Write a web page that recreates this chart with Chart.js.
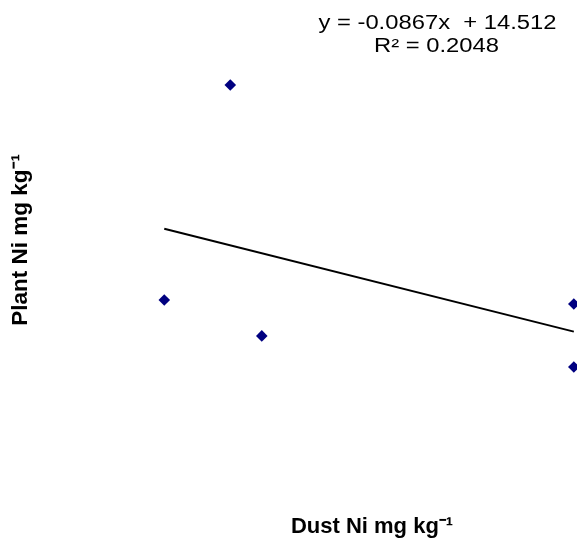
<!DOCTYPE html>
<html><head><meta charset="utf-8">
<script src="https://cdn.jsdelivr.net/npm/chart.js@4/dist/chart.umd.min.js"></script>
<style>
html,body{margin:0;padding:0;overflow:hidden;background:#fff;width:577px;height:540px}
#wrap{position:relative;width:577px;height:540px;overflow:hidden;background:#fff}
#c{position:absolute;left:0;top:-32px}
</style></head><body>
<div id="wrap"><canvas id="c" width="750" height="572"></canvas></div>
<script>
// Data
const dustNi  = [17.3, 26.1, 30.3, 71.9, 71.9];
const plantNi = [9.73, 19.62, 8.08, 9.55, 6.65];
const trendSlope = -0.0867;
const trendIntercept = 14.512;
const rSquared = 0.2048;
const xLimits = [0, 90];
const yLimits = [0, 25];
const xTitle = 'Dust Ni mg kg⁻¹';
const yTitle = 'Plant Ni mg kg⁻¹';
const eqLine1 = 'y = -0.0867x  + 14.512';
const eqLine2 = 'R² = 0.2048';

const points = dustNi.map((x, i) => ({x: x, y: plantNi[i]}));
const xLo = Math.min(...dustNi), xHi = Math.max(...dustNi);
const trend = [xLo, xHi].map(x => ({x: x, y: trendIntercept + trendSlope * x}));

const eqPlugin = {
  id: 'eq',
  afterDraw(chart) {
    const ctx = chart.ctx;
    ctx.save();
    ctx.font = '19.5px "Liberation Sans", Arial, sans-serif';
    ctx.fillStyle = '#000';
    ctx.textAlign = 'center';
    ctx.textBaseline = 'middle';
    ctx.scale(1.22, 1);
    ctx.fillText(eqLine1, 437.5 / 1.22, 56);
    ctx.fillText(eqLine2, 436.5 / 1.22, 78.5);
    ctx.restore();
  }
};

const titleFont = (s) => ({ family: '"Liberation Sans", Arial, sans-serif', size: s, weight: 'bold' });

new Chart(document.getElementById('c'), {
  type: 'scatter',
  data: {
    datasets: [
      {
        label: 'Plant Ni',
        data: points,
        pointStyle: 'rectRot',
        pointRadius: 5.8,
        pointHoverRadius: 5.8,
        backgroundColor: '#000080',
        borderColor: '#000080',
        borderWidth: 0,
        clip: false,
        order: 1
      },
      {
        label: 'Linear',
        type: 'line',
        data: trend,
        showLine: true,
        pointRadius: 0,
        borderColor: '#000',
        borderWidth: 2,
        fill: false,
        clip: false,
        order: 2
      }
    ]
  },
  options: {
    responsive: false,
    animation: false,
    events: [],
    layout: { autoPadding: false, padding: { left: 0, right: 40.4, top: 0, bottom: 0 } },
    plugins: { legend: { display: false }, tooltip: { enabled: false } },
    scales: {
      x: {
        type: 'linear', min: xLimits[0], max: xLimits[1],
        grid: { display: false, drawTicks: false },
        border: { display: false },
        ticks: { display: false },
        title: { display: true, text: xTitle, color: '#000', font: titleFont(22),
          padding: { top: 2, bottom: 0 } }
      },
      y: {
        type: 'linear', min: yLimits[0], max: yLimits[1],
        grid: { display: false, drawTicks: false },
        border: { display: false },
        ticks: { display: false },
        title: { display: true, text: yTitle, color: '#000', font: titleFont(22.5),
          padding: { top: 7.5, bottom: 0 } }
      }
    }
  },
  plugins: [eqPlugin]
});
</script>
</body></html>
